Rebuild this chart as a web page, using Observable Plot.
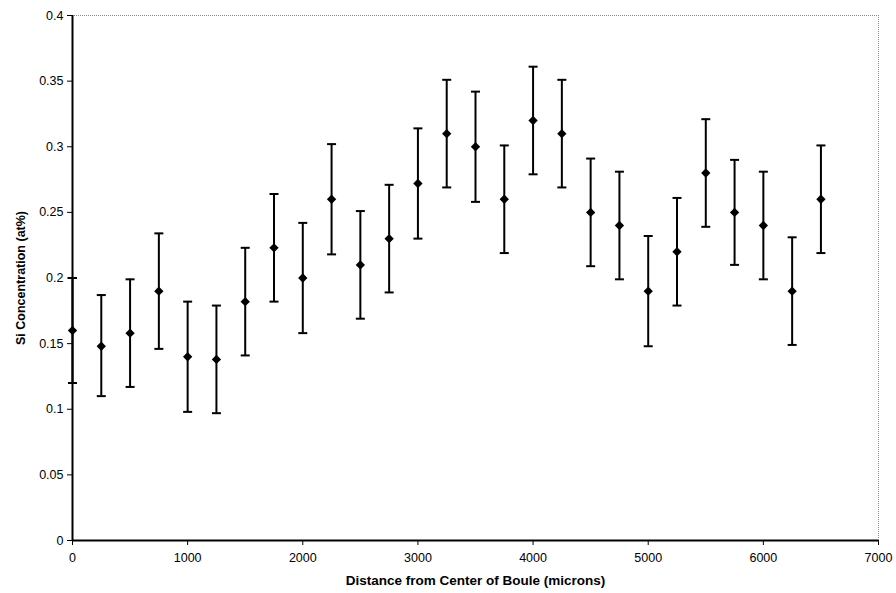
<!DOCTYPE html>
<html>
<head>
<meta charset="utf-8">
<script src="https://cdn.jsdelivr.net/npm/d3@7"></script>
<script src="https://cdn.jsdelivr.net/npm/@observablehq/plot@0.6"></script>
<style>
  html, body { margin: 0; padding: 0; background: #fff; }
  #chart svg { display: block; }
</style>
</head>
<body>
<div id="chart"></div>
<script>
const distance = [0,250,500,750,1000,1250,1500,1750,2000,2250,2500,2750,3000,3250,3500,3750,4000,4250,4500,4750,5000,5250,5500,5750,6000,6250,6500];
const concentration = [0.160,0.148,0.158,0.190,0.140,0.138,0.182,0.223,0.200,0.260,0.210,0.230,0.272,0.310,0.300,0.260,0.320,0.310,0.250,0.240,0.190,0.220,0.280,0.250,0.240,0.190,0.260];
const errLow = [0.120,0.110,0.117,0.146,0.098,0.097,0.141,0.182,0.158,0.218,0.169,0.189,0.230,0.269,0.258,0.219,0.279,0.269,0.209,0.199,0.148,0.179,0.239,0.210,0.199,0.149,0.219];
const errHigh = [0.200,0.187,0.199,0.234,0.182,0.179,0.223,0.264,0.242,0.302,0.251,0.271,0.314,0.351,0.342,0.301,0.361,0.351,0.291,0.281,0.232,0.261,0.321,0.290,0.281,0.231,0.301];
const xTicks = [0,1000,2000,3000,4000,5000,6000,7000];
const yTicks = [0,0.05,0.1,0.15,0.2,0.25,0.3,0.35,0.4];
const xLabel = "Distance from Center of Boule (microns)";
const yLabel = "Si Concentration (at%)";

const data = distance.map((d, i) => ({x: d, y: concentration[i], lo: errLow[i], hi: errHigh[i]}));

const cap = {
  draw(context, size) {
    context.moveTo(-4.5, 0);
    context.lineTo(4.5, 0);
  }
};

const chart = Plot.plot({
  width: 896,
  height: 593,
  marginLeft: 72,
  marginRight: 18,
  marginTop: 15,
  marginBottom: 53,
  style: {fontFamily: "Arial, 'Liberation Sans', sans-serif", fontSize: "12.5px", color: "#000", background: "#fff"},
  x: {domain: [0, 7000]},
  y: {domain: [0, 0.4]},
  marks: [
    Plot.ruleY([0.4], {stroke: "#888", strokeDasharray: "1,1"}),
    Plot.ruleX([7000], {stroke: "#888", strokeDasharray: "1,1"}),
    Plot.axisY({ticks: yTicks, tickFormat: d => String(d), tickSize: 5, tickPadding: 4, label: yLabel, labelAnchor: "center", labelArrow: "none", labelOffset: 56, fontSize: 12.5}),
    Plot.axisX({ticks: xTicks, tickFormat: d => String(d), tickSize: 5, tickPadding: 8, label: xLabel, labelAnchor: "center", labelArrow: "none", labelOffset: 44, fontSize: 12.5}),
    Plot.ruleX([0], {stroke: "#000", strokeWidth: 2}),
    Plot.ruleY([0], {stroke: "#000", strokeWidth: 2}),
    Plot.ruleX(data, {x: "x", y1: "lo", y2: "hi", stroke: "#000", strokeWidth: 2}),
    Plot.dot(data, {x: "x", y: "lo", symbol: cap, r: 4, stroke: "#000", strokeWidth: 2, fill: "none"}),
    Plot.dot(data, {x: "x", y: "hi", symbol: cap, r: 4, stroke: "#000", strokeWidth: 2, fill: "none"}),
    Plot.dot(data, {x: "x", y: "y", symbol: "diamond2", r: 4.2, fill: "#000", stroke: "none"})
  ]
});

// bold axis titles
d3.select(chart).selectAll("[aria-label='x-axis label'] text").attr("font-weight", "bold").attr("font-size", 13.5);
d3.select(chart).selectAll("[aria-label='y-axis label'] text").attr("font-weight", "bold").attr("font-size", 12.5);

document.getElementById("chart").appendChild(chart);
</script>
</body>
</html>
